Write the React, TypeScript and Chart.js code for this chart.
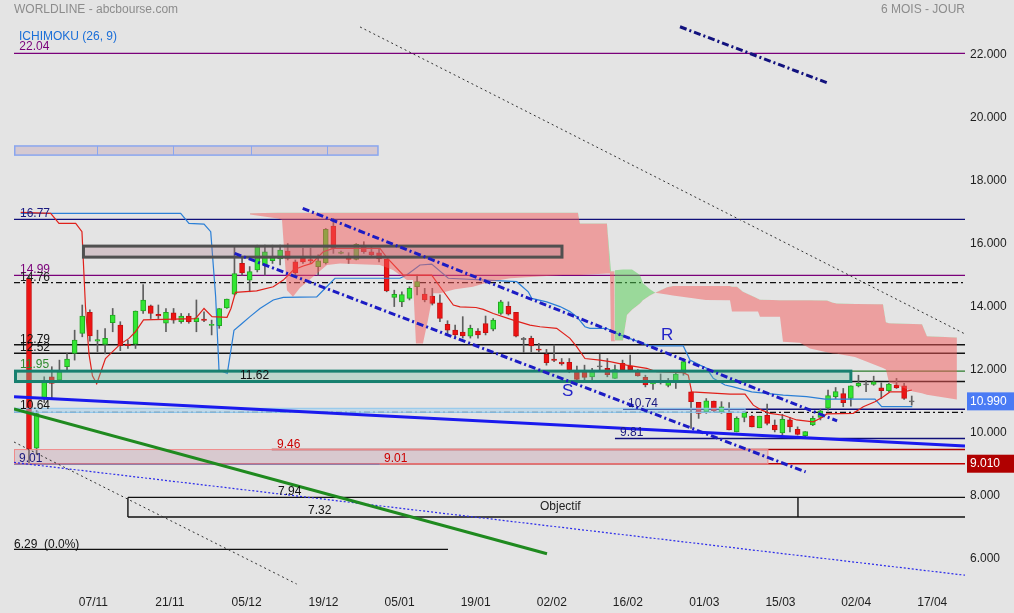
import React, { useEffect, useRef } from 'react';
import { Chart, registerables } from 'chart.js';

Chart.register(...registerables);

const FONT = 'Arial, "Liberation Sans", Helvetica, sans-serif';

// ---------- axes ----------
const X_MIN = -1.97;
const X_MAX = 123.0;
const Y_MIN = 5.0;
const Y_MAX = 23.1;
const xTickPos = [8.46, 18.5, 28.6, 38.7, 48.7, 58.7, 68.7, 78.7, 88.75, 98.75, 108.7, 118.7];
const xTickLabels = ['07/11', '21/11', '05/12', '19/12', '05/01', '19/01', '02/02', '16/02', '01/03', '15/03', '02/04', '17/04'];
const yTickValues = [6, 8, 10, 12, 14, 16, 18, 20, 22];

// ---------- daily candles (index 0 .. 116) ----------
const opens = [
  14.90, 9.50, 11.08, 11.77, 11.67, 12.09, 12.51, 13.15, 13.82, 12.90,
  12.80, 13.49, 13.41, 12.81, 12.81, 13.86, 14.02, 13.75, 13.47, 13.80,
  13.52, 13.70, 13.52, 13.60, 13.40, 13.39, 13.96, 14.39, 15.37, 14.84,
  15.16, 15.32, 15.46, 15.51, 15.76, 15.42, 15.53, 15.49, 15.27, 15.39,
  16.56, 15.69, 15.60, 15.50, 15.95, 15.74, 15.71, 15.51, 14.29, 14.15,
  14.26, 14.63, 14.40, 14.33, 14.12, 13.44, 13.25, 13.19, 13.06, 13.22,
  13.46, 13.28, 13.78, 14.01, 13.82, 12.97, 12.99, 12.65, 12.48, 12.33,
  12.24, 12.23, 11.93, 11.93, 11.77, 12.10, 12.04, 11.72, 12.20, 12.11,
  11.91, 11.75, 11.54, 11.66, 11.50, 11.58, 11.90, 11.29, 10.96, 10.66,
  11.00, 10.66, 10.61, 10.02, 10.48, 10.52, 10.15, 10.55, 10.24, 9.99,
  10.40, 10.10, 9.90, 10.24, 10.48, 10.77, 11.14, 11.24, 11.08, 11.48,
  11.53, 11.53, 11.42, 11.33, 11.51, 11.48, 10.99,
];
const highs = [
  14.99, 10.70, 11.77, 12.09, 12.30, 12.51, 13.25, 14.05, 13.90, 13.25,
  13.30, 13.94, 13.52, 12.94, 13.86, 14.70, 14.05, 14.05, 13.94, 13.94,
  13.78, 13.78, 14.21, 13.83, 13.57, 13.94, 14.24, 15.90, 15.58, 15.27,
  15.95, 15.95, 15.95, 15.95, 16.00, 15.48, 15.85, 15.85, 15.64, 16.48,
  16.80, 15.76, 15.71, 16.00, 16.06, 15.90, 15.85, 15.51, 14.52, 14.47,
  14.63, 15.00, 14.58, 14.58, 14.37, 13.55, 13.41, 13.68, 13.41, 13.30,
  13.70, 13.62, 14.20, 14.15, 13.82, 13.02, 13.06, 12.83, 12.64, 12.78,
  12.35, 12.35, 12.11, 12.14, 12.04, 12.49, 12.35, 12.14, 12.30, 12.46,
  12.00, 11.82, 11.66, 11.86, 11.72, 11.93, 12.35, 11.29, 10.96, 11.08,
  11.00, 10.98, 10.95, 10.50, 10.66, 10.55, 10.52, 10.90, 10.40, 10.58,
  10.48, 10.18, 10.03, 10.52, 10.74, 11.35, 11.43, 11.40, 11.48, 11.82,
  11.66, 11.79, 11.58, 11.56, 11.72, 11.56, 11.16,
];
const lows = [
  9.01, 9.30, 10.95, 11.08, 11.60, 11.98, 12.30, 13.04, 12.90, 12.57,
  12.50, 13.20, 12.60, 12.67, 12.67, 13.78, 13.62, 13.62, 13.20, 13.47,
  13.47, 13.47, 13.20, 13.52, 13.10, 13.31, 13.94, 14.37, 15.00, 14.47,
  15.10, 15.00, 15.37, 15.32, 15.48, 15.00, 15.37, 15.37, 15.00, 15.35,
  15.69, 15.67, 15.37, 15.48, 15.69, 15.58, 15.42, 14.47, 14.00, 14.00,
  14.21, 14.37, 14.15, 14.05, 13.52, 13.10, 13.04, 13.00, 13.00, 13.00,
  13.10, 13.23, 13.75, 13.73, 13.04, 12.54, 12.56, 12.56, 12.14, 12.25,
  12.14, 11.90, 11.67, 11.67, 11.67, 11.98, 11.77, 11.72, 11.98, 11.93,
  11.79, 11.45, 11.37, 11.54, 11.45, 11.40, 11.82, 10.13, 10.45, 10.61,
  10.66, 10.61, 10.08, 10.02, 10.34, 10.18, 10.15, 10.24, 10.02, 9.92,
  10.02, 9.92, 9.87, 10.22, 10.40, 10.71, 11.08, 10.82, 10.84, 11.45,
  11.30, 11.50, 11.08, 11.30, 11.40, 11.05, 10.87,
];
const closes = [
  9.45, 10.60, 11.61, 11.56, 11.93, 12.33, 12.94, 13.70, 13.07, 12.95,
  12.99, 13.73, 12.76, 12.76, 13.86, 14.21, 13.78, 13.70, 13.82, 13.57,
  13.70, 13.52, 13.64, 13.56, 13.44, 13.94, 14.24, 15.05, 15.07, 15.11,
  15.90, 15.74, 15.56, 15.79, 15.53, 15.07, 15.42, 15.45, 15.45, 16.45,
  15.85, 15.73, 15.50, 15.98, 15.74, 15.64, 15.51, 14.50, 14.39, 14.38,
  14.58, 14.79, 14.21, 14.10, 13.62, 13.25, 13.10, 13.07, 13.31, 13.10,
  13.17, 13.57, 14.15, 13.76, 13.06, 12.97, 12.75, 12.62, 12.22, 12.29,
  12.18, 11.98, 11.69, 11.75, 11.93, 12.10, 11.84, 12.00, 12.00, 12.00,
  11.80, 11.51, 11.58, 11.58, 11.61, 11.86, 12.25, 10.98, 10.61, 11.01,
  10.69, 10.82, 10.08, 10.45, 10.63, 10.18, 10.52, 10.29, 10.08, 10.42,
  10.18, 9.94, 10.03, 10.45, 10.69, 11.17, 11.30, 10.95, 11.48, 11.56,
  11.53, 11.61, 11.33, 11.54, 11.42, 11.08, 10.99,
];

// ---------- Ichimoku lines (vertices) ----------
const tenkanX = [
  -1.09, 2.85, 3.94, 6.14, 6.96, 7.42, 7.88, 8.34, 8.9, 10.05, 11.96, 13.14, 13.99, 15.05,
  21.88, 23.0, 24.05, 26.02, 26.54, 27.14, 29.92, 32.1, 33.42, 34.73, 36.04, 37.15, 38.67,
  39.99, 46.12, 47.0, 49.19, 52.92, 54.01, 55.76, 56.64, 58.74, 59.7, 61.01, 63.64, 65.83,
  67.15, 69.34, 71.09, 71.97, 73.06, 75.03, 76.35, 78.54, 81.17, 82.48, 85.98, 86.64, 87.08,
  92.12, 94.09, 95.18, 96.28, 97.37, 99.12, 100.88, 103.06, 104.38, 104.82, 108.32, 109.63,
  111.17, 112.26, 113.14, 114.89, 116.03,
];
const tenkanY = [
  16.99, 16.96, 16.64, 16.64, 16.38, 14.0, 12.5, 11.8, 11.55, 12.35, 12.8, 12.99, 13.2, 13.58,
  13.62, 13.94, 13.68, 13.66, 13.94, 14.45, 14.5, 14.63, 14.84, 15.16, 15.29, 15.37, 15.74,
  15.85, 15.85, 15.56, 15.0, 15.0, 14.63, 14.05, 13.99, 13.97, 13.91, 13.78, 13.57, 13.41,
  13.36, 13.31, 12.99, 12.73, 12.35, 12.3, 12.25, 12.14, 12.04, 11.93, 11.9, 11.82, 11.29,
  11.22, 11.22, 10.87, 10.71, 10.61, 10.55, 10.4, 10.34, 10.5, 10.59, 10.61, 10.82,
  10.98, 11.14, 11.29, 11.29, 11.35,
];
const kijunX = [
  -1.09, 19.93, 21.02, 23.0, 23.88, 24.53, 24.97, 26.06, 26.94, 28.03, 29.04, 30.35, 32.1,
  33.42, 37.81, 39.12, 40.21, 48.75, 49.63, 51.38, 52.92, 55.1, 64.09, 65.61, 66.06, 68.03,
  69.78, 71.09, 71.97, 73.06, 73.72, 75.91, 77.66, 81.6, 85.98, 86.86, 88.17, 89.05, 89.92,
  91.46, 92.55, 94.97, 99.12, 102.19, 104.6, 111.17, 112.05, 116.07,
];
const kijunY = [
  16.96, 16.96, 16.64, 16.62, 16.38, 14.31, 11.98, 11.88, 13.25, 13.47, 13.68, 13.94, 14.21,
  14.29, 14.31, 14.63, 14.9, 14.9, 15.0, 15.32, 15.35, 14.9, 14.79, 14.47, 14.26, 14.15,
  14.0, 13.84, 13.68, 13.36, 13.31, 13.31, 13.1, 12.75, 12.75, 12.3, 12.14, 12.04, 11.72,
  11.51, 11.45, 11.29, 11.19, 11.14, 11.06, 11.06, 10.82, 10.82,
];
const cloudX = [
  29.04, 32.72, 33.25, 33.9, 34.69, 35.61, 37.84, 39.16, 40.87, 46.12, 47.83, 49.67, 50.46,
  50.85, 51.77, 52.43, 53.09, 54.01, 55.98, 58.34, 60.58, 63.21, 70.17, 72.14, 72.4, 75.95,
  76.35, 76.48, 76.94, 77.0, 78.06, 78.58, 79.24, 80.29, 80.68, 81.6, 82.3, 83.84, 84.63,
  88.96, 92.12, 92.38, 93.04, 93.82, 95.4, 95.8, 96.06, 97.64, 98.69, 99.08, 101.31, 102.63,
  104.86, 105.65, 106.18, 108.54, 112.22, 112.61, 113.01, 116.16, 117.35, 118.0, 121.94,
];
const senkouB = [
  16.96, 16.98, 16.98, 16.98, 16.98, 16.98, 16.98, 16.98, 16.98, 16.98, 16.98, 16.98, 16.98,
  16.98, 16.98, 16.98, 16.98, 16.98, 16.98, 16.98, 16.98, 16.98, 16.98, 16.98, 16.64, 16.64,
  15.12, 15.12, 15.12, 12.92, 12.92, 13.73, 13.9, 14.1, 14.2, 14.35, 14.44, 14.61, 14.65,
  14.65, 14.65, 14.63, 14.63, 14.47, 14.3, 14.25, 14.22, 14.21, 14.2, 14.2, 14.2, 14.2,
  14.19, 14.12, 14.1, 14.08, 14.07, 13.5, 13.47, 13.45, 13.44, 13.06, 13.02,
];
const senkouA = [
  16.92, 16.8, 16.75, 14.52, 14.31, 14.6, 15.05, 15.32, 15.37, 15.32, 15.16, 14.84, 14.84,
  12.83, 12.83, 13.57, 14.42, 14.42, 14.55, 14.63, 14.79, 14.9, 15.0, 15.0, 15.0, 15.05,
  15.05, 12.9, 12.9, 15.15, 15.18, 15.18, 15.18, 15.0, 14.74, 14.55, 14.44, 14.38, 14.35,
  14.21, 14.2, 13.84, 13.84, 13.84, 13.84, 13.84, 13.68, 13.68, 13.68, 12.88, 12.85, 12.67,
  12.55, 12.51, 12.5, 12.4, 12.05, 12.0, 11.6, 11.3, 11.25, 11.2, 11.05,
];

// ---------- drawn levels ----------
const levelValues = [22.04, 16.77, 14.99, 14.76, 12.79, 12.52, 11.95, 11.62, 10.74, 10.64, 9.81, 9.46, 9.01, 9.01, 7.94, 7.32, 6.29];
const levelStyles = [
  { color: '#7a007a' },
  { color: '#10107a' },
  { color: '#7a007a' },
  { color: '#111111', dash: [6, 3, 2, 3] },
  { color: '#111111' },
  { color: '#111111' },
  { color: '#2d7d2d' },
  { color: '#111111' },
  { color: '#10107a', from: 78.06 },
  { color: '#111111', dash: [6, 3, 2, 3] },
  { color: '#10107a', from: 77.0 },
  { color: '#aa0000', from: 31.9 },
  { color: '#c00000', from: 46.1 },
  { color: '#10107a', to: 46.1 },
  { color: '#111111', from: 13.0 },
  { color: '#111111', from: 13.0 },
  { color: '#111111', to: 55.06 },
];

// ---------- zones ----------
const zoneLow = [11.62, 10.64, 9.01, 15.57, 18.81];
const zoneHigh = [11.95, 10.77, 9.46, 15.92, 19.1];
const zoneStyles = [
  { x0: X_MIN, x1: 108.0, fill: 'rgba(120,190,160,0.35)', stroke: '#17806f', lw: 3 },
  { x0: X_MIN, x1: 94.1, fill: 'rgba(150,205,240,0.45)', stroke: '#8cc6ee', lw: 1 },
  { x0: X_MIN, x1: 97.1, fill: 'rgba(190,140,160,0.3)', stroke: '#f08a8a', lw: 1 },
  { x0: 6.96, x1: 70.04, fill: 'rgba(170,120,135,0.3)', stroke: '#505050', lw: 3 },
  { x0: X_MIN, x1: 45.86, fill: 'rgba(190,160,180,0.4)', stroke: '#8aa6ef', lw: 1.5 },
];
const topZoneDividers = [8.94, 18.92, 29.17, 39.16];
const objectifEdges = [13.0, 101.05];

// ---------- trend lines ----------
const trendStartX = [X_MIN, X_MIN, X_MIN, X_MIN, 43.5, 35.97, 27.03, 85.55];
const trendStartY = [11.14, 10.75, 9.05, 9.7, 22.88, 17.12, 15.69, 22.885];
const trendEndX = [X_MAX, 68.07, X_MAX, 35.18, X_MAX, 106.19, 102.06, 105.03];
const trendEndY = [9.57, 6.15, 5.47, 5.19, 13.13, 10.37, 8.75, 21.09];
const trendStyles = [
  { color: '#1a1aee', w: 3, dash: [] as number[] },
  { color: '#1f8a1f', w: 3, dash: [] as number[] },
  { color: '#2b2bea', w: 1.2, dash: [2, 2] },
  { color: '#333333', w: 1, dash: [2, 3] },
  { color: '#333333', w: 1, dash: [2, 3] },
  { color: '#1c1cc4', w: 3, dash: [7, 3, 2, 3] },
  { color: '#1c1cc4', w: 3, dash: [7, 3, 2, 3] },
  { color: '#12127e', w: 3, dash: [7, 3, 2, 3] },
];

// ---------- text labels ----------
const labelTexts = ['ICHIMOKU (26, 9)', '22.04', '16.77', '14.99', '14.76', '12.79', '12.52', '11.95', '11.62', '10.64', '9.01', '9.46', '9.01', '10.74', '9.81', '7.94', '7.32', 'Objectif', '6.29  (0.0%)', 'R', 'S'];
const labelAnchorX = [-1.31, -1.27, -1.18, -1.18, -1.18, -1.18, -1.18, -1.18, 27.73, -1.18, -1.31, 32.59, 46.65, 78.71, 77.66, 32.72, 36.66, 67.15, -1.97, 83.05, 70.04];
const labelAnchorV = [22.04, 22.04, 16.77, 14.99, 14.76, 12.79, 12.52, 11.95, 11.62, 10.64, 9.01, 9.46, 9.01, 10.74, 9.81, 7.94, 7.32, 7.94, 6.29, 12.94, 11.16];
const labelStyles = [
  { dy: -13.3, color: '#1a6ed8', size: 12 },
  { dy: -3.3, color: '#7a007a', size: 12 },
  { dy: -2, color: '#1a1a80', size: 12 },
  { dy: -2, color: '#7a007a', size: 12 },
  { dy: -2, color: '#222222', size: 12 },
  { dy: -2, color: '#111111', size: 12 },
  { dy: -2, color: '#111111', size: 12 },
  { dy: -3, color: '#2e8b2e', size: 12 },
  { dy: -2.5, color: '#111111', size: 12 },
  { dy: -3, color: '#111111', size: 12 },
  { dy: -2, color: '#1a1a80', size: 12 },
  { dy: -2, color: '#cc0000', size: 12 },
  { dy: -2, color: '#cc0000', size: 12 },
  { dy: -2.5, color: '#1a1a80', size: 12 },
  { dy: -2.5, color: '#1a1a80', size: 12 },
  { dy: -2.4, color: '#111111', size: 12 },
  { dy: -3, color: '#111111', size: 12 },
  { dy: 12.6, color: '#222222', size: 12 },
  { dy: -1.5, color: '#111111', size: 12 },
  { dy: 0, color: '#2424c8', size: 17 },
  { dy: 0, color: '#2424c8', size: 17 },
];
const priceTags = [10.99, 9.01];
const priceTagText = ['10.990', '9.010'];
const priceTagColors = ['#4a7bf5', '#b00000'];

const CLOUD_A_INDEX = 5;

export default function App() {
  const ref = useRef<HTMLCanvasElement | null>(null);

  useEffect(() => {
    document.body.style.margin = '0';
    document.body.style.background = '#e4e4e4';
    const canvas = ref.current;
    if (!canvas) return;

    const idx = opens.map((_, i) => i);
    const wickData = idx.map((i) => ({ x: i, y: [lows[i], highs[i]] }));
    const bodyData = idx.map((i) => {
      let lo = Math.min(opens[i], closes[i]);
      let hi = Math.max(opens[i], closes[i]);
      if (hi - lo < 0.035) {
        const m = (hi + lo) / 2;
        lo = m - 0.018;
        hi = m + 0.018;
      }
      return { x: i, y: [lo, hi] };
    });
    const bodyFill = idx.map((i) => (closes[i] > opens[i] ? '#33e633' : closes[i] < opens[i] ? '#ee1313' : '#6a6a6a'));
    const bodyBorder = idx.map((i) => (closes[i] > opens[i] ? '#22a622' : closes[i] < opens[i] ? '#c41010' : '#6a6a6a'));

    const pts = (xs: number[], ys: number[]) => xs.map((x, k) => ({ x, y: ys[k] }));

    const trendDatasets = trendStyles.map((st, k) => ({
      type: 'line' as const,
      data: [
        { x: trendStartX[k], y: trendStartY[k] },
        { x: trendEndX[k], y: trendEndY[k] },
      ],
      borderColor: st.color,
      borderWidth: st.w,
      borderDash: st.dash,
      pointRadius: 0,
      fill: false,
      tension: 0,
      order: 10,
    }));

    const bgPlugin = {
      id: 'bg',
      beforeDraw(chart: any) {
        const { ctx, width, height } = chart;
        ctx.save();
        ctx.fillStyle = '#e4e4e4';
        ctx.fillRect(0, 0, width, height);
        ctx.restore();
      },
    };

    const levelsPlugin = {
      id: 'levels',
      beforeDatasetsDraw(chart: any) {
        const { ctx, chartArea, scales } = chart;
        const x = scales.x;
        const y = scales.y;
        ctx.save();
        ctx.beginPath();
        ctx.rect(chartArea.left, chartArea.top, chartArea.right - chartArea.left, chartArea.bottom - chartArea.top);
        ctx.clip();
        levelValues.forEach((v, k) => {
          const st: any = levelStyles[k];
          const py = y.getPixelForValue(v);
          const x0 = x.getPixelForValue(st.from ?? X_MIN);
          const x1 = x.getPixelForValue(st.to ?? X_MAX);
          ctx.beginPath();
          ctx.strokeStyle = st.color;
          ctx.lineWidth = 1.4;
          ctx.setLineDash(st.dash || []);
          ctx.moveTo(x0, py);
          ctx.lineTo(x1, py);
          ctx.stroke();
        });
        ctx.restore();
      },
    };

    const zonesPlugin = {
      id: 'zones',
      afterDatasetDraw(chart: any, args: any) {
        if (args.index !== CLOUD_A_INDEX) return;
        const { ctx, scales } = chart;
        const x = scales.x;
        const y = scales.y;
        ctx.save();
        ctx.setLineDash([]);
        zoneStyles.forEach((st, k) => {
          const px0 = x.getPixelForValue(st.x0) + st.lw / 2;
          const px1 = x.getPixelForValue(st.x1);
          const pyTop = y.getPixelForValue(zoneHigh[k]);
          const pyBot = y.getPixelForValue(zoneLow[k]);
          ctx.fillStyle = st.fill;
          ctx.fillRect(px0, pyTop, px1 - px0, pyBot - pyTop);
          ctx.strokeStyle = st.stroke;
          ctx.lineWidth = st.lw;
          ctx.strokeRect(px0, pyTop, px1 - px0, pyBot - pyTop);
        });
        // dividers in the top zone
        const tTop = y.getPixelForValue(zoneHigh[4]);
        const tBot = y.getPixelForValue(zoneLow[4]);
        ctx.strokeStyle = '#8aa6ef';
        ctx.lineWidth = 1;
        topZoneDividers.forEach((d) => {
          const px = Math.round(x.getPixelForValue(d)) + 0.5;
          ctx.beginPath();
          ctx.moveTo(px, tTop);
          ctx.lineTo(px, tBot);
          ctx.stroke();
        });
        // objectif box edges
        const oTop = y.getPixelForValue(7.94);
        const oBot = y.getPixelForValue(7.32);
        ctx.strokeStyle = '#111111';
        ctx.lineWidth = 1.4;
        objectifEdges.forEach((d) => {
          const px = x.getPixelForValue(d);
          ctx.beginPath();
          ctx.moveTo(px, oTop);
          ctx.lineTo(px, oBot);
          ctx.stroke();
        });
        ctx.restore();
      },
    };

    const textPlugin = {
      id: 'texts',
      afterDraw(chart: any) {
        const { ctx, scales, chartArea, width } = chart;
        const x = scales.x;
        const y = scales.y;
        ctx.save();
        ctx.textBaseline = 'alphabetic';
        ctx.textAlign = 'left';
        labelTexts.forEach((t, k) => {
          const st = labelStyles[k];
          ctx.font = `${st.size}px ${FONT}`;
          ctx.fillStyle = st.color;
          ctx.fillText(t, x.getPixelForValue(labelAnchorX[k]), y.getPixelForValue(labelAnchorV[k]) + st.dy);
        });
        // header
        ctx.font = `12px ${FONT}`;
        ctx.fillStyle = '#8c8c8c';
        ctx.fillText('WORLDLINE - abcbourse.com', chartArea.left, 13);
        ctx.textAlign = 'right';
        ctx.fillText('6 MOIS - JOUR', chartArea.right, 13);
        // price tags on the right axis
        ctx.textAlign = 'left';
        ctx.textBaseline = 'middle';
        priceTags.forEach((v, k) => {
          const py = y.getPixelForValue(v);
          ctx.fillStyle = priceTagColors[k];
          ctx.fillRect(chartArea.right + 2, py - 9, width - chartArea.right - 2, 18);
          ctx.fillStyle = '#ffffff';
          ctx.fillText(priceTagText[k], chartArea.right + 5, py);
        });
        ctx.restore();
      },
    };

    const chart = new Chart(canvas, {
      type: 'line',
      data: {
        datasets: [
          {
            type: 'bar',
            data: wickData as any,
            backgroundColor: '#5e5e5e',
            borderWidth: 0,
            barThickness: 1,
            grouped: false,
            order: 50,
          } as any,
          {
            type: 'bar',
            data: bodyData as any,
            backgroundColor: bodyFill,
            borderColor: bodyBorder,
            borderWidth: 1,
            borderSkipped: false,
            barThickness: 5,
            grouped: false,
            order: 45,
          } as any,
          {
            type: 'line',
            data: pts(tenkanX, tenkanY),
            borderColor: '#e0201a',
            borderWidth: 1.2,
            pointRadius: 0,
            tension: 0,
            fill: false,
            order: 39,
          },
          {
            type: 'line',
            data: pts(kijunX, kijunY),
            borderColor: '#2a7fd6',
            borderWidth: 1.2,
            pointRadius: 0,
            tension: 0,
            fill: false,
            order: 40,
          },
          {
            type: 'line',
            data: pts(cloudX, senkouB),
            borderColor: 'rgba(0,0,0,0)',
            borderWidth: 0,
            pointRadius: 0,
            tension: 0,
            fill: false,
            order: 35,
          },
          {
            type: 'line',
            data: pts(cloudX, senkouA),
            borderColor: 'rgba(0,0,0,0)',
            borderWidth: 0,
            pointRadius: 0,
            tension: 0,
            fill: { target: 4, above: 'rgba(80,205,80,0.5)', below: 'rgba(244,90,90,0.5)' },
            order: 30,
          } as any,
          ...trendDatasets,
        ],
      },
      options: {
        animation: false,
        responsive: false,
        devicePixelRatio: 1,
        events: [],
        layout: { padding: { left: 14, top: 20, right: 0, bottom: 0 } },
        plugins: {
          legend: { display: false },
          tooltip: { enabled: false },
          title: { display: false },
        },
        scales: {
          x: {
            type: 'linear',
            min: X_MIN,
            max: X_MAX,
            offset: false,
            grid: { display: false, drawTicks: false },
            border: { display: false },
            afterBuildTicks: (scale: any) => {
              scale.ticks = xTickPos.map((v) => ({ value: v }));
            },
            afterFit: (scale: any) => {
              scale.height = 23;
            },
            ticks: {
              autoSkip: false,
              maxRotation: 0,
              minRotation: 0,
              padding: 5,
              color: '#1e1e1e',
              font: { family: FONT, size: 12 },
              callback: (_v: any, i: number) => xTickLabels[i],
            },
          },
          y: {
            type: 'linear',
            position: 'right',
            min: Y_MIN,
            max: Y_MAX,
            grid: { display: false, drawTicks: false },
            border: { display: false },
            afterBuildTicks: (scale: any) => {
              scale.ticks = yTickValues.map((v) => ({ value: v }));
            },
            afterFit: (scale: any) => {
              scale.width = 49;
            },
            ticks: {
              padding: 5,
              color: '#1e1e1e',
              font: { family: FONT, size: 12 },
              callback: (v: any) => Number(v).toFixed(3),
            },
          },
        },
      } as any,
      plugins: [bgPlugin, levelsPlugin, zonesPlugin, textPlugin],
    });

    return () => {
      chart.destroy();
    };
  }, []);

  return (
    <div style={{ width: 1014, height: 613, background: '#e4e4e4' }}>
      <canvas ref={ref} width={1014} height={613} style={{ display: 'block', width: 1014, height: 613 }} />
    </div>
  );
}
